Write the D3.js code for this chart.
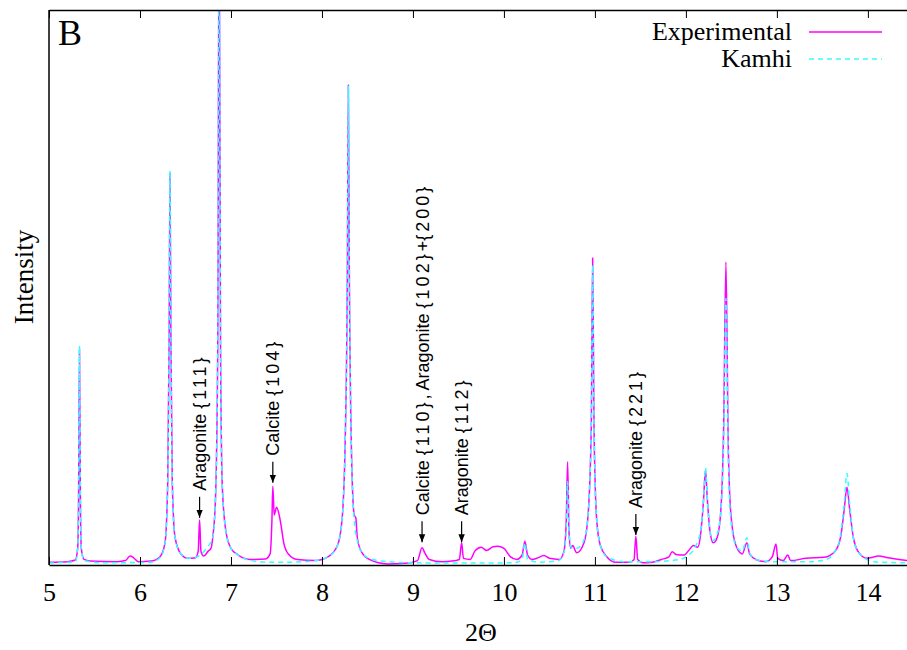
<!DOCTYPE html>
<html>
<head>
<meta charset="utf-8">
<script src="https://cdn.jsdelivr.net/npm/d3@7"></script>
<style>
  body { margin: 0; background: #fff; }
</style>
</head>
<body>
<script>
var w = 907, h = 650;
var margin = {left: 49, right: 0, top: 10, bottom: 85};
var serif = '"Liberation Serif", "Times New Roman", serif';
var sans = '"Liberation Sans", Arial, sans-serif';

// [2-theta, intensity] (intensity in % of plot height)
var expSpectrum = [
  [5.0, 0.5], [5.2, 0.6], [5.29, 0.9], [5.315, 3], [5.325, 12], [5.335, 38.7], [5.345, 12], [5.355, 3],
  [5.385, 1.0], [5.45, 0.7], [5.75, 0.6], [5.84, 0.8], [5.89, 1.6], [5.93, 1.3], [5.98, 0.6],
  [6.12, 0.7], [6.22, 1.5], [6.275, 4], [6.305, 15], [6.32, 40], [6.33, 70.5], [6.34, 40], [6.355, 15],
  [6.385, 5], [6.45, 2], [6.53, 1.2], [6.61, 1.3], [6.64, 2.5], [6.655, 8.1], [6.67, 2.5], [6.7, 1.6],
  [6.75, 2.5], [6.78, 3.0], [6.8, 5], [6.83, 12], [6.855, 40], [6.87, 120], [6.885, 40], [6.905, 14],
  [6.945, 6], [7.0, 3], [7.08, 1.8], [7.22, 1.0], [7.38, 1.1], [7.43, 2], [7.45, 8], [7.46, 14.2],
  [7.475, 9], [7.5, 10.4], [7.53, 9], [7.55, 7.2], [7.58, 4], [7.63, 2], [7.73, 1.0], [7.93, 0.8],
  [8.07, 1.5], [8.17, 3.5], [8.22, 8], [8.255, 22], [8.28, 55], [8.29, 86.5], [8.3, 55], [8.325, 20],
  [8.355, 9], [8.372, 8.5], [8.388, 5], [8.43, 2.5], [8.52, 1.0], [8.72, 0.2], [8.92, 0.3], [9.05, 0.8],
  [9.1, 3.1], [9.13, 2.2], [9.18, 1.0], [9.32, 0.6], [9.43, 0.7], [9.51, 1.0], [9.535, 4.0], [9.555, 1.2],
  [9.63, 1.0], [9.68, 2.5], [9.75, 3.2], [9.81, 2.6], [9.88, 3.3], [9.93, 3.4], [10.0, 3.0], [10.07, 1.5],
  [10.14, 1.0], [10.2, 1.8], [10.23, 4.3], [10.26, 1.8], [10.31, 1.0], [10.36, 1.2], [10.44, 1.7], [10.5, 1.2],
  [10.61, 1.0], [10.66, 2.5], [10.685, 8], [10.7, 18.6], [10.715, 6], [10.735, 3], [10.755, 3.5], [10.8, 2.2],
  [10.88, 4], [10.925, 9], [10.96, 25], [10.975, 55.3], [10.99, 25], [11.02, 8], [11.06, 3.5], [11.13, 1.5],
  [11.23, 0.5], [11.38, 0.5], [11.43, 1.0], [11.45, 5.2], [11.47, 1.0], [11.53, 0.4], [11.63, 0.5], [11.73, 1.0],
  [11.81, 1.4], [11.85, 2.4], [11.89, 1.9], [11.98, 1.8], [12.04, 2.8], [12.08, 3.5], [12.13, 3.2], [12.165, 6],
  [12.195, 12], [12.215, 17.1], [12.235, 12], [12.265, 6], [12.3, 4], [12.33, 4.4], [12.375, 8], [12.415, 25],
  [12.44, 54.6], [12.465, 22], [12.495, 9], [12.55, 3.5], [12.62, 2.0], [12.67, 4.0], [12.7, 2], [12.77, 1.0],
  [12.88, 0.6], [12.95, 1.5], [12.99, 3.8], [13.01, 1.2], [13.07, 0.8], [13.12, 1.8], [13.15, 0.8], [13.32, 1.2],
  [13.52, 1.4], [13.64, 2.5], [13.7, 5], [13.74, 10], [13.77, 14], [13.8, 10], [13.84, 5], [13.89, 2.5],
  [13.99, 1.2], [14.12, 1.6], [14.22, 1.3], [14.43, 0.8]
];

var kamSpectrum = [
  [5.0, 0.35], [5.29, 0.6], [5.315, 3], [5.325, 12], [5.335, 39.5], [5.345, 12], [5.355, 3], [5.385, 0.8],
  [5.6, 0.4], [6.12, 0.5], [6.22, 1.3], [6.275, 3.8], [6.305, 15], [6.32, 40], [6.33, 71], [6.34, 40],
  [6.355, 15], [6.385, 5], [6.45, 2], [6.53, 1.2], [6.63, 1.5], [6.73, 3], [6.8, 5], [6.83, 12],
  [6.855, 40], [6.87, 120], [6.885, 40], [6.905, 14], [6.945, 6], [7.0, 3], [7.08, 1.8], [7.22, 0.8],
  [7.42, 0.5], [7.62, 0.5], [7.93, 0.8], [8.07, 1.5], [8.17, 3.5], [8.22, 8], [8.255, 22], [8.28, 55],
  [8.29, 86.5], [8.3, 55], [8.325, 20], [8.355, 8], [8.395, 4], [8.435, 2.3], [8.52, 1.2], [8.72, 0.6],
  [9.0, 0.4], [9.5, 0.35], [10.12, 0.4], [10.2, 1.0], [10.23, 4], [10.26, 1.0], [10.4, 0.5], [10.6, 0.8],
  [10.655, 2], [10.685, 6], [10.7, 15], [10.715, 6], [10.745, 3], [10.8, 3], [10.88, 4.5], [10.925, 9],
  [10.96, 25], [10.975, 54], [10.99, 25], [11.02, 8], [11.06, 3.5], [11.13, 1.5], [11.33, 0.6], [11.63, 0.6],
  [11.93, 1.0], [12.03, 1.8], [12.11, 3.5], [12.165, 6.5], [12.195, 12], [12.215, 17.5], [12.235, 12], [12.265, 6],
  [12.3, 4.4], [12.33, 5], [12.375, 8], [12.415, 22], [12.44, 48], [12.465, 20], [12.495, 8], [12.55, 3.5],
  [12.62, 2.5], [12.67, 4.9], [12.7, 2.2], [12.77, 1.0], [12.95, 0.6], [13.35, 0.6], [13.54, 1.0], [13.64, 2.5],
  [13.7, 5.5], [13.74, 11], [13.77, 16.5], [13.8, 11], [13.84, 5], [13.89, 2.5], [13.99, 1.0], [14.12, 0.5],
  [14.43, 0.4]
];

var xTicks = [5, 6, 7, 8, 9, 10, 11, 12, 13, 14];

// peak annotations: label, 2-theta, intensity at arrow tip
var annLabels = ["Aragonite {111}", "Calcite {104}", "Calcite {110}, Aragonite {102}+{200}",
  "Aragonite {112}", "Aragonite {221}"];
var annTheta = [6.655, 7.46, 9.1, 9.535, 11.45];
var annTip = [8.5, 14.8, 4.1, 4.1, 5.4];

var seriesNames = ["Experimental", "Kamhi"];

var x = d3.scaleLinear().domain([5, 14.43]).range([margin.left, w - margin.right]);
var y = d3.scaleLinear().domain([0, 100]).range([h - margin.bottom, margin.top]);

var svg = d3.select('body').append('svg')
  .attr('width', w)
  .attr('height', h);

var defs = svg.append('defs');
defs.append('clipPath').attr('id', 'clip')
  .append('rect')
  .attr('x', margin.left).attr('y', margin.top)
  .attr('width', w - margin.left - margin.right)
  .attr('height', h - margin.top - margin.bottom);

var line = d3.line()
  .x(function(d){ return x(d[0]); })
  .y(function(d){ return y(d[1]); })
  .curve(d3.curveMonotoneX);

var plot = svg.append('g').attr('clip-path', 'url(#clip)');
plot.append('path')
  .datum(expSpectrum)
  .attr('d', line)
  .attr('fill', 'none')
  .attr('stroke', '#ff00ff')
  .attr('stroke-width', 1.5);
plot.append('path')
  .datum(kamSpectrum)
  .attr('d', line)
  .attr('fill', 'none')
  .attr('stroke', '#33ffff')
  .attr('stroke-width', 1.5)
  .attr('stroke-dasharray', '5,4');

// axes: ticks point inward, mirrored on top
var gx = svg.append('g')
  .attr('transform', 'translate(0,' + (h - margin.bottom) + ')')
  .call(d3.axisBottom(x).tickValues(xTicks).tickSizeInner(-8).tickSizeOuter(0).tickPadding(18));
gx.select('.domain').attr('stroke', '#000').attr('stroke-width', 1.5);
gx.selectAll('.tick line').attr('stroke', '#000');
gx.selectAll('.tick text')
  .style('font-family', serif)
  .style('font-size', '26px')
  .attr('fill', '#000');

var gxTop = svg.append('g')
  .attr('transform', 'translate(0,' + margin.top + ')')
  .call(d3.axisTop(x).tickValues(xTicks).tickSizeInner(-8).tickSizeOuter(0).tickFormat(''));
gxTop.select('.domain').attr('stroke', '#000').attr('stroke-width', 1.5);
gxTop.selectAll('.tick line').attr('stroke', '#000');

svg.append('line')
  .attr('x1', margin.left).attr('x2', margin.left)
  .attr('y1', margin.top).attr('y2', h - margin.bottom)
  .attr('stroke', '#000').attr('stroke-width', 1.5);

// axis titles
svg.append('text')
  .attr('x', 481).attr('y', 641)
  .attr('text-anchor', 'middle')
  .style('font-family', serif)
  .style('font-size', '26px')
  .text('2Θ');
svg.append('text')
  .attr('transform', 'translate(33,277) rotate(-90)')
  .attr('text-anchor', 'middle')
  .style('font-family', serif)
  .style('font-size', '27px')
  .text('Intensity');

svg.append('text')
  .attr('x', 58).attr('y', 45)
  .style('font-family', serif)
  .style('font-size', '36px')
  .text('B');

// legend
var legendColors = ['#ff00ff', '#33ffff'];
seriesNames.forEach(function(name, i){
  var ly = 32 + i * 27;
  svg.append('text')
    .attr('x', 792).attr('y', ly + 8)
    .attr('text-anchor', 'end')
    .style('font-family', serif)
    .style('font-size', '26px')
    .text(name);
  svg.append('line')
    .attr('x1', 809).attr('x2', 882)
    .attr('y1', ly).attr('y2', ly)
    .attr('stroke', legendColors[i])
    .attr('stroke-width', 1.5)
    .attr('stroke-dasharray', i == 1 ? '5,4' : null);
});

// annotations
defs.append('marker')
  .attr('id', 'head')
  .attr('viewBox', '0 0 10 10')
  .attr('refX', 10).attr('refY', 5)
  .attr('markerWidth', 8).attr('markerHeight', 8)
  .attr('markerUnits', 'userSpaceOnUse')
  .attr('orient', 'auto')
  .append('path')
  .attr('d', 'M0,1 L10,5 L0,9 Z')
  .attr('fill', '#000');

annLabels.forEach(function(label, i){
  var ax = x(annTheta[i]);
  var tip = y(annTip[i]);
  svg.append('line')
    .attr('x1', ax).attr('x2', ax)
    .attr('y1', tip - 21).attr('y2', tip)
    .attr('stroke', '#000')
    .attr('stroke-width', 1.2)
    .attr('marker-end', 'url(#head)');
  var t = svg.append('text')
    .attr('transform', 'translate(' + ax + ',' + (tip - 27) + ') rotate(-90)')
    .attr('dy', '0.36em')
    .style('font-family', sans)
    .style('font-size', '18px');
  label.split(/(\{[^}]*\})/).forEach(function(part){
    if(!part) return;
    var s = t.append('tspan').text(part);
    if(part[0] == '{') s.style('letter-spacing', '3px');
  });
});
</script>
</body>
</html>
